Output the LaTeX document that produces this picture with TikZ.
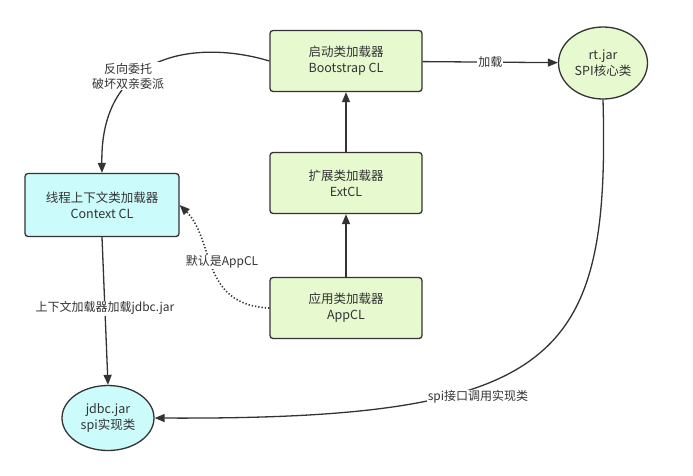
\documentclass[tikz,border=0pt]{standalone}
\usepackage{fontspec}
\setmainfont{Noto Sans CJK SC}
\usetikzlibrary{arrows.meta,shapes.geometric}
\definecolor{lgreen}{HTML}{E6F9CF}
\definecolor{lcyan}{HTML}{CCFBFC}
\definecolor{edge}{HTML}{333333}
\begin{document}
\begin{tikzpicture}[x=1pt,y=-1pt,
  box/.style={draw=edge,line width=1.3pt,rounded corners=3pt,minimum width=152pt,minimum height=61pt,align=center,font=\fontsize{12.5}{16}\selectfont,text=black!80},
  oval/.style={draw=edge,line width=1.3pt,ellipse,align=center,font=\fontsize{12.5}{16}\selectfont,text=black!80,inner sep=0pt},
  conn/.style={draw=edge,line width=1.3pt,-{Triangle[length=10pt,width=8pt]}},
  lbl/.style={fill=white,inner sep=1pt,font=\fontsize{12}{15}\selectfont,text=black!80,align=center}]
\useasboundingbox (0,0) rectangle (693,475);
\node[box,fill=lgreen] (boot) at (346,61) {启动类加载器\\Bootstrap CL};
\node[box,fill=lgreen] (ext) at (346,183) {扩展类加载器\\ExtCL};
\node[box,fill=lgreen] (app) at (346,308) {应用类加载器\\AppCL};
\node[box,fill=lcyan,minimum width=154pt,minimum height=63pt] (ctx) at (102,205) {线程上下文类加载器\\Context CL};
\node[oval,fill=lgreen,minimum width=89pt,minimum height=72pt] (rt) at (603,63) {rt.jar\\SPI核心类};
\node[oval,fill=lcyan,minimum width=92pt,minimum height=65pt] (jdbc) at (108,418) {jdbc.jar\\spi实现类};
\draw[conn] (boot) -- node[lbl]{加载} (rt);
\draw[conn] (ext) -- (boot);
\draw[conn] (app) -- (ext);
\draw[conn] (boot.west) .. controls (200,40) and (100,50) .. (ctx.north);
\node[lbl] (rev) at (128,76) {反向委托\\破坏双亲委派};
\draw[conn,dotted,line width=1.6pt] (app.west) .. controls (200,305) and (215,240) .. (ctx.east);
\node[lbl] (dflt) at (222,262) {默认是AppCL};
\draw[conn] (ctx.south) -- node[lbl,pos=0.48]{上下文加载器加载jdbc.jar} (jdbc.north);
\draw[conn] (rt.south) .. controls (610,360) and (560,420) .. (jdbc.east);
\node[lbl] (spi) at (478,397) {spi接口调用实现类};
\end{tikzpicture}
\end{document}
